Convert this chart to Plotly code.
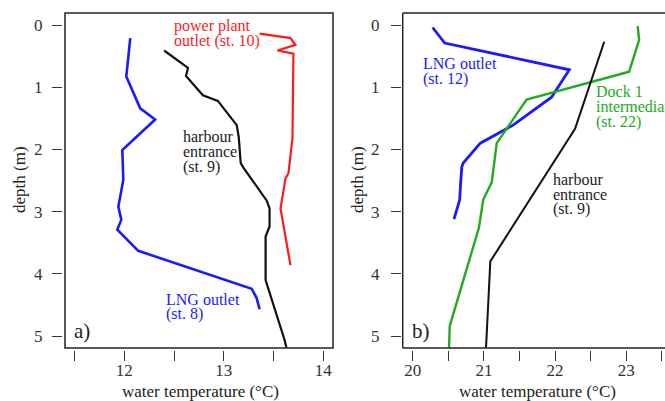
import plotly.graph_objects as go

W, H = 665, 401

# ---------------- data ----------------
# panel a
a_st8_temp = [12.06, 12.05, 12.02, 12.16, 12.31, 11.98, 11.99, 11.94, 11.97, 11.93, 12.14, 13.28, 13.33, 13.36]
a_st8_depth = [0.21, 0.35, 0.83, 1.34, 1.52, 2.01, 2.49, 2.92, 3.13, 3.29, 3.63, 4.24, 4.39, 4.57]

a_st9_temp = [12.40, 12.64, 12.62, 12.79, 12.94, 13.13, 13.15, 13.17, 13.20, 13.40, 13.43, 13.46, 13.46, 13.42, 13.42, 13.61, 13.63]
a_st9_depth = [0.41, 0.69, 0.82, 1.13, 1.22, 1.61, 1.80, 2.22, 2.30, 2.76, 2.82, 2.95, 3.24, 3.40, 4.10, 5.06, 5.19]

a_st10_temp = [13.36, 13.67, 13.72, 13.54, 13.70, 13.69, 13.65, 13.62, 13.57, 13.67]
a_st10_depth = [0.14, 0.21, 0.32, 0.41, 0.46, 1.82, 2.38, 2.47, 2.95, 3.86]

# panel b
b_st12_temp = [20.28, 20.34, 20.45, 22.20, 21.95, 21.41, 20.95, 20.71, 20.69, 20.67, 20.66, 20.62, 20.60, 20.58]
b_st12_depth = [0.04, 0.13, 0.29, 0.72, 1.16, 1.61, 1.90, 2.22, 2.28, 2.60, 2.81, 2.97, 3.05, 3.12]

b_st22_temp = [23.16, 23.17, 23.18, 23.04, 21.60, 21.18, 21.11, 20.99, 20.93, 20.52, 20.51]
b_st22_depth = [0.02, 0.11, 0.24, 0.75, 1.20, 1.90, 2.53, 2.81, 3.26, 4.84, 5.19]

b_st9_temp = [22.69, 22.28, 21.09, 21.03]
b_st9_depth = [0.27, 1.67, 3.80, 5.19]

depth_ticks = [0, 1, 2, 3, 4, 5]
a_temp_ticks = [11.5, 12, 12.5, 13, 13.5, 14]
a_temp_labels = ["", "12", "", "13", "", "14"]
b_temp_ticks = [20, 20.5, 21, 21.5, 22, 22.5, 23, 23.5]
b_temp_labels = ["20", "", "21", "", "22", "", "23", ""]

RED = "#ff1a1a"
BLUE = "#1a1aff"
GREEN = "#22aa22"
BLACK = "#111111"
FONT = "Liberation Serif"

# ---------------- geometry helpers ----------------
def px(x):
    return x / W

def py(y):
    return 1 - y / H

# y: depth d -> pixel 25 + 62.2*d
def d_at(ypix):
    return (ypix - 25) / 62.2

def ta_at(xpix):
    return 12 + (xpix - 124.3) / 99.5

def tb_at(xpix):
    return 20 + (xpix - 412.7) / 71.2

fig = go.Figure()

def line(x, y, color, width, xa, ya):
    fig.add_trace(go.Scatter(x=x, y=y, mode="lines", line=dict(color=color, width=width),
                             xaxis=xa, yaxis=ya, showlegend=False, hoverinfo="skip"))

line(a_st8_temp, a_st8_depth, BLUE, 2.6, "x", "y")
line(a_st9_temp, a_st9_depth, BLACK, 2.2, "x", "y")
line(a_st10_temp, a_st10_depth, RED, 2.2, "x", "y")
line(b_st12_temp, b_st12_depth, BLUE, 2.8, "x2", "y2")
line(b_st22_temp, b_st22_depth, GREEN, 2.4, "x2", "y2")
line(b_st9_temp, b_st9_depth, BLACK, 2.0, "x2", "y2")

tickfont = dict(family=FONT, size=17, color="#333333")
ax_common = dict(showgrid=False, zeroline=False, showline=False, ticks="outside",
                 ticklen=10, tickwidth=1.3, tickcolor="#333333", tickfont=tickfont)

y_range = [d_at(350), d_at(11)]

fig.update_layout(
    width=W, height=H,
    margin=dict(l=0, r=0, t=0, b=0),
    paper_bgcolor="white", plot_bgcolor="white",
    xaxis=dict(domain=[px(63), px(335)], range=[ta_at(63), ta_at(335)],
               tickmode="array", tickvals=a_temp_ticks, ticktext=a_temp_labels,
               anchor="y", ticklabelstandoff=-5, **ax_common),
    yaxis=dict(domain=[py(350), py(11)], range=y_range,
               tickmode="array", tickvals=depth_ticks, ticktext=[str(v) for v in depth_ticks],
               anchor="x", ticklabelstandoff=6, **ax_common),
    xaxis2=dict(domain=[px(402), 1.0], range=[tb_at(402), tb_at(665)],
                tickmode="array", tickvals=b_temp_ticks, ticktext=b_temp_labels,
                anchor="y2", ticklabelstandoff=-5, **ax_common),
    yaxis2=dict(domain=[py(350), py(11)], range=y_range,
                tickmode="array", tickvals=depth_ticks, ticktext=[str(v) for v in depth_ticks],
                anchor="x2", ticklabelstandoff=8, **ax_common),
)

# frames
fc = dict(color="#222222", width=1.5)
fa = dict(x0=ta_at(65), x1=ta_at(333), y0=d_at(13), y1=d_at(348))
fig.add_shape(type="rect", xref="x", yref="y", line=fc, **fa)
bx0, bx1 = tb_at(402.7), tb_at(700)
by0, by1 = d_at(13), d_at(348)
for (x0, y0, x1, y1) in [(bx0, by0, bx0, by1), (bx0, by0, bx1, by0), (bx0, by1, bx1, by1)]:
    fig.add_shape(type="line", xref="x2", yref="y2", x0=x0, y0=y0, x1=x1, y1=y1, line=fc)

# annotations (one per text line)
labels = [
    ("power plant", 172, 26, RED, 16),
    ("outlet (st. 10)", 172, 41, RED, 16),
    ("harbour", 180.7, 137, "#222222", 16),
    ("entrance", 180.7, 152, "#222222", 16),
    ("(st. 9)", 180.7, 167, "#222222", 16),
    ("LNG outlet", 164.3, 299, BLUE, 16),
    ("(st. 8)", 164.3, 314, BLUE, 16),
    ("a)", 72, 331, "#222222", 21),
    ("LNG outlet", 420.7, 63.3, BLUE, 16),
    ("(st. 12)", 420.7, 79, BLUE, 16),
    ("Dock 1", 594, 91.7, GREEN, 16),
    ("intermediate", 594, 106.7, GREEN, 16),
    ("(st. 22)", 594, 121.7, GREEN, 16),
    ("harbour", 551, 179.3, "#222222", 16),
    ("entrance", 551, 194, "#222222", 16),
    ("(st. 9)", 551, 209, "#222222", 16),
    ("b)", 410, 331, "#222222", 21),
]
for text, x, y, col, size in labels:
    fig.add_annotation(text=text, x=px(x), y=py(y), xref="paper", yref="paper",
                       xanchor="left", yanchor="middle", showarrow=False,
                       font=dict(family=FONT, size=size, color=col))

# axis titles
for text, x, y, ang in [("water temperature (°C)", 200, 391, 0),
                        ("water temperature (°C)", 537, 391, 0),
                        ("depth (m)", 19, 180, -90),
                        ("depth (m)", 357, 180, -90)]:
    fig.add_annotation(text=text, x=px(x), y=py(y), xref="paper", yref="paper",
                       xanchor="center", yanchor="middle", showarrow=False, textangle=ang,
                       font=dict(family=FONT, size=17, color="#222222"))

fig.write_html("out.html", config={"displayModeBar": False},
               post_script="document.body.style.margin='0';document.body.style.padding='0';"
                           "document.body.style.overflow='hidden';")
